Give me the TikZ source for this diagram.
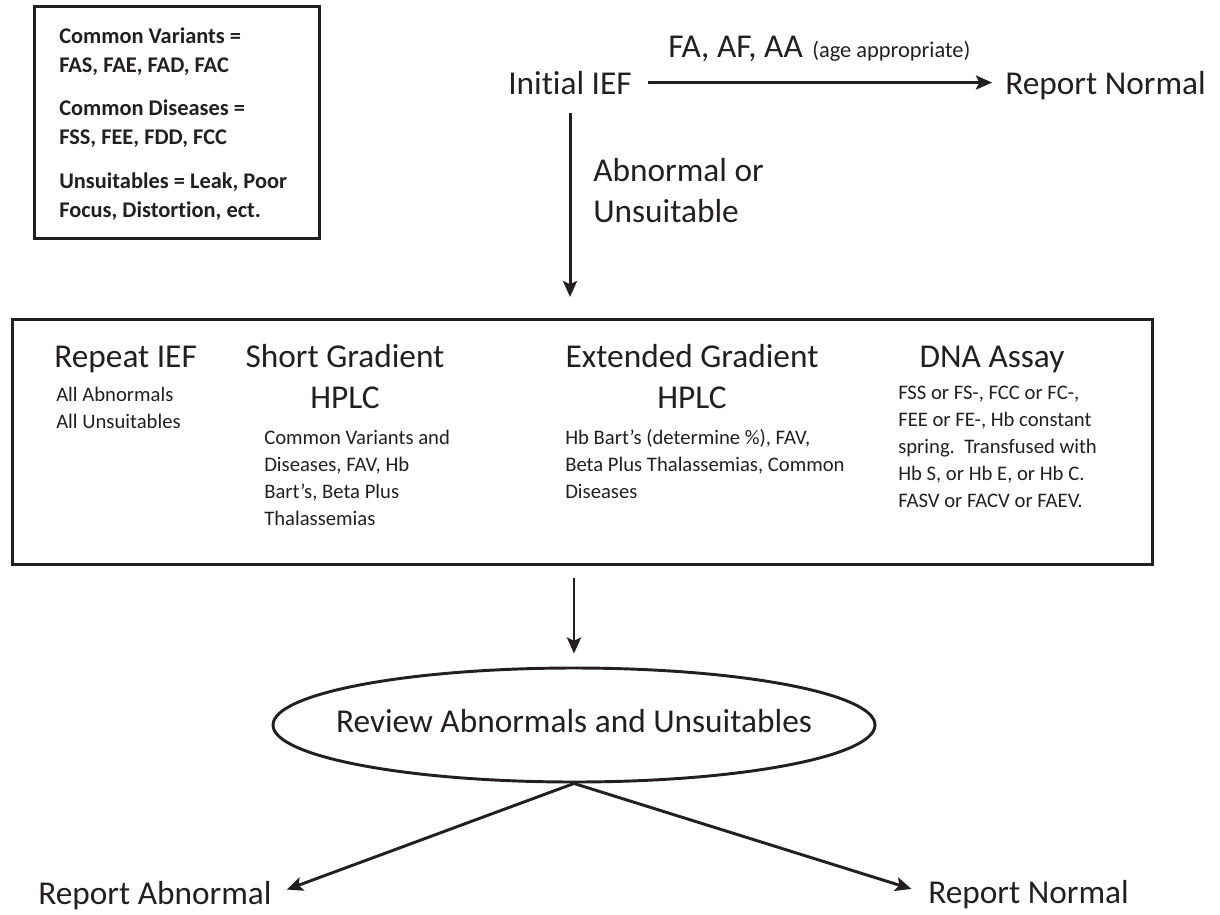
\documentclass[tikz,border=0pt]{standalone}
\usepackage{fontspec}
\setmainfont{Carlito}[Ligatures=NoCommon]
\usetikzlibrary{arrows.meta,shapes.geometric}
\definecolor{ink}{HTML}{231F20}
\newcommand\mylines[2][l]{\begin{tabular}[t]{@{}#1@{}}#2\end{tabular}}
\begin{document}
\begin{tikzpicture}[x=0.75pt,y=-0.75pt,
  every node/.style={inner sep=0pt, text=ink},
  big/.style={font=\fontsize{25}{30.75}\selectfont},
  small/.style={font=\fontsize{15.5}{20.25}\selectfont},
  legendtxt/.style={font=\fontsize{16.8}{21.75}\selectfont\bfseries},
  agetxt/.style={font=\fontsize{16.8}{20}\selectfont},
  frame/.style={draw=ink, line width=2.5pt},
  arr/.style={draw=ink, line width=2.2pt, -{Stealth[length=12pt,width=10.5pt,inset=2.5pt]}}
]
\useasboundingbox (0,0) rectangle (1220,914);

% legend box
\node[frame, anchor=north west, minimum width=213.75pt, minimum height=174pt] (legend) at (33,5) {};
\node[legendtxt, anchor=base west] (cv) at (59,43) {\mylines{Common Variants =\\FAS, FAE, FAD, FAC}};
\node[legendtxt, anchor=base west] (cd) at (59,115) {\mylines{Common Diseases =\\FSS, FEE, FDD, FCC}};
\node[legendtxt, anchor=base west] (us) at (59,188) {\mylines{Unsuitables = Leak, Poor\\Focus, Distortion, ect.}};

% top row
\node[big, anchor=base west] (ief) at (508,94) {Initial IEF};
\node[big, anchor=base west] (rn1) at (1005,94) {Report Normal};
\node[big, anchor=base west] (fa) at (668,57) {FA, AF, AA};
\node[agetxt, anchor=base west] (age) at (812,57) {(age appropriate)};
\draw[arr, shorten <=12pt, shorten >=9.75pt] (ief.east) -- (ief.east -| rn1.west);

% panel
\node[frame, anchor=north west, minimum width=855pt, minimum height=183.75pt] (panel) at (11,318) {};
\draw[arr, shorten <=14pt, shorten >=15.75pt] (ief.south) -- (ief.south |- panel.north);
\node[big, anchor=base west] (abn) at (593,181) {\mylines{Abnormal or\\Unsuitable}};

\node[big, anchor=base west] (rep) at (54,367) {Repeat IEF};
\node[small, anchor=base west] (repd) at (56,401) {\mylines{All Abnormals\\All Unsuitables}};

\node[big, anchor=base] (sg) at (345,367) {\mylines[c]{Short Gradient\\HPLC}};
\node[small, anchor=base west] (sgd) at (264,444) {\mylines{Common Variants and\\Diseases, FAV, Hb\\Bart’s, Beta Plus\\Thalassemias}};

\node[big, anchor=base] (eg) at (692,367) {\mylines[c]{Extended Gradient\\HPLC}};
\node[small, anchor=base west] (egd) at (565,444) {\mylines{Hb Bart’s (determine \%), FAV,\\Beta Plus Thalassemias, Common\\Diseases}};

\node[big, anchor=base] (dna) at (992,367) {DNA Assay};
\node[small, anchor=base west] (dnad) at (898,399) {\mylines{FSS or FS-, FCC or FC-,\\FEE or FE-, Hb constant\\spring.\ \ Transfused with\\Hb S, or Hb E, or Hb C.\\FASV or FACV or FAEV.}};

% review ellipse
\node[ellipse, draw=ink, line width=2.2pt, minimum width=451.5pt, minimum height=85.5pt] (rev) at (574,725) {};
\node[big] (revt) at (574,721) {Review Abnormals and Unsuitables};
\draw[arr, shorten <=9pt, shorten >=9.75pt] (rev.north |- panel.south) -- (rev.north);

% outcomes
\node[big, anchor=base west] (ra) at (38,904) {Report Abnormal};
\node[big, anchor=base west] (rn2) at (928,903) {Report Normal};
\draw[arr, shorten >=12pt] (rev.south) -- (ra.east);
\draw[arr, shorten >=13pt] (rev.south) -- (rn2.west);
\end{tikzpicture}
\end{document}
